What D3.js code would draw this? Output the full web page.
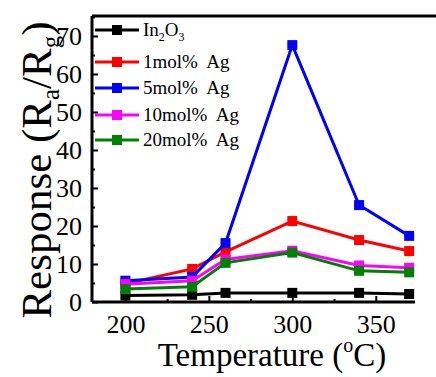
<!DOCTYPE html>
<html><head><meta charset="utf-8">
<script src="https://cdn.jsdelivr.net/npm/d3@7"></script>
<style>body{margin:0;background:#fff}svg{display:block}svg text{font-family:"Liberation Serif","Times New Roman",serif !important;fill:#000}</style>
</head><body><svg id="c" width="436" height="377" font-family="Liberation Serif, serif"></svg>
<script>
const temps = [200, 240, 260, 300, 340, 370];
const seriesNames = ["In2O3", "1mol%  Ag", "5mol%  Ag", "10mol%  Ag", "20mol%  Ag"];
const seriesColors = ["#000000", "#ff0000", "#0000ff", "#ff00ff", "#008000"];
const in2o3 = [1.7, 1.9, 2.4, 2.4, 2.4, 2.1];
const ag1 = [4.8, 8.7, 13.2, 21.3, 16.3, 13.4];
const ag5 = [5.6, 6.6, 15.5, 67.6, 25.5, 17.4];
const ag10 = [4.7, 5.6, 11.2, 13.5, 9.6, 9.0];
const ag20 = [3.4, 4.0, 10.3, 13.0, 8.2, 7.8];
const xTicks = [200, 250, 300, 350];
const yTicks = [0, 10, 20, 30, 40, 50, 60, 70];
const allSeries = [in2o3, ag1, ag5, ag10, ag20];
const FONT = "Liberation Serif, serif";

const svg = d3.select("#c");
const x = d3.scaleLinear().domain([180, 373.5]).range([92, 415]);
const y = d3.scaleLinear().domain([0, 75.26]).range([302, 16]);

svg.append("line").attr("x1",92).attr("x2",436).attr("y1",16).attr("y2",16).attr("stroke","#000").attr("stroke-width",3);

const xAxis = d3.axisBottom(x).tickValues(xTicks).tickSize(-6).tickPadding(13).tickFormat(d3.format("d"));
const gx = svg.append("g").attr("transform","translate(0,302)").call(xAxis).attr("font-family",FONT);
gx.select(".domain").attr("stroke-width",3).attr("d","M92,0H415");
gx.selectAll(".tick line").attr("stroke-width",2);
gx.selectAll(".tick text").attr("font-size",26).attr("font-family",FONT).attr("dy","0.71em");
svg.append("g").attr("transform","translate(0,302)")
  .call(d3.axisBottom(x).tickValues([225,275,325]).tickSize(-3).tickFormat(""))
  .call(g=>g.select(".domain").remove()).selectAll("line").attr("stroke-width",2);

const yAxis = d3.axisLeft(y).tickValues(yTicks).tickSize(-6).tickPadding(10);
const gy = svg.append("g").attr("transform","translate(92,0)").call(yAxis).attr("font-family",FONT);
gy.select(".domain").attr("stroke-width",3).attr("d","M0,16V302");
gy.selectAll(".tick line").attr("stroke-width",2);
gy.selectAll(".tick text").attr("font-size",26).attr("font-family",FONT);
svg.append("g").attr("transform","translate(92,0)")
  .call(d3.axisLeft(y).tickValues([5,15,25,35,45,55,65,75]).tickSize(-3).tickFormat(""))
  .call(g=>g.select(".domain").remove()).selectAll("line").attr("stroke-width",2);

const line = d3.line().x((d,i)=>x(temps[i])).y(d=>y(d));
allSeries.forEach((s,k)=>{
  const g = svg.append("g");
  g.append("path").datum(s).attr("d",line).attr("fill","none").attr("stroke",seriesColors[k]).attr("stroke-width",3);
  g.selectAll("rect").data(s).join("rect")
    .attr("x",(d,i)=>x(temps[i])-5).attr("y",d=>y(d)-5).attr("width",10).attr("height",10)
    .attr("fill",seriesColors[k]);
});

const legY = [30, 62, 88, 115, 140];
seriesNames.forEach((n,k)=>{
  const g = svg.append("g").attr("transform",`translate(0,${legY[k]})`);
  g.append("line").attr("x1",95).attr("x2",139).attr("stroke",seriesColors[k]).attr("stroke-width",3);
  g.append("rect").attr("x",112).attr("y",-5).attr("width",10).attr("height",10).attr("fill",seriesColors[k]);
  const t = g.append("text").attr("x",143).attr("y",6).attr("font-size",19).attr("font-family",FONT).style("white-space","pre");
  if (k===0) {
    t.append("tspan").text("In");
    t.append("tspan").attr("font-size",12).attr("dy",5).text("2");
    t.append("tspan").attr("dy",-5).text("O");
    t.append("tspan").attr("font-size",12).attr("dy",5).text("3");
  } else t.text(n);
});

const yl = svg.append("text").attr("transform","translate(51,170) rotate(-90)").attr("text-anchor","middle").attr("font-size",43).attr("font-family",FONT);
yl.append("tspan").text("Response (R");
yl.append("tspan").attr("font-size",25).attr("dy",8).text("a");
yl.append("tspan").attr("dy",-8).text("/R");
yl.append("tspan").attr("font-size",25).attr("dy",8).text("g");
yl.append("tspan").attr("dy",-8).text(")");

const xl = svg.append("text").attr("x",272).attr("y",366).attr("text-anchor","middle").attr("font-size",33).attr("font-family",FONT);
xl.append("tspan").text("Temperature (");
xl.append("tspan").attr("font-size",20).attr("dy",-14).text("o");
xl.append("tspan").attr("dy",14).text("C)");
</script></body></html>
